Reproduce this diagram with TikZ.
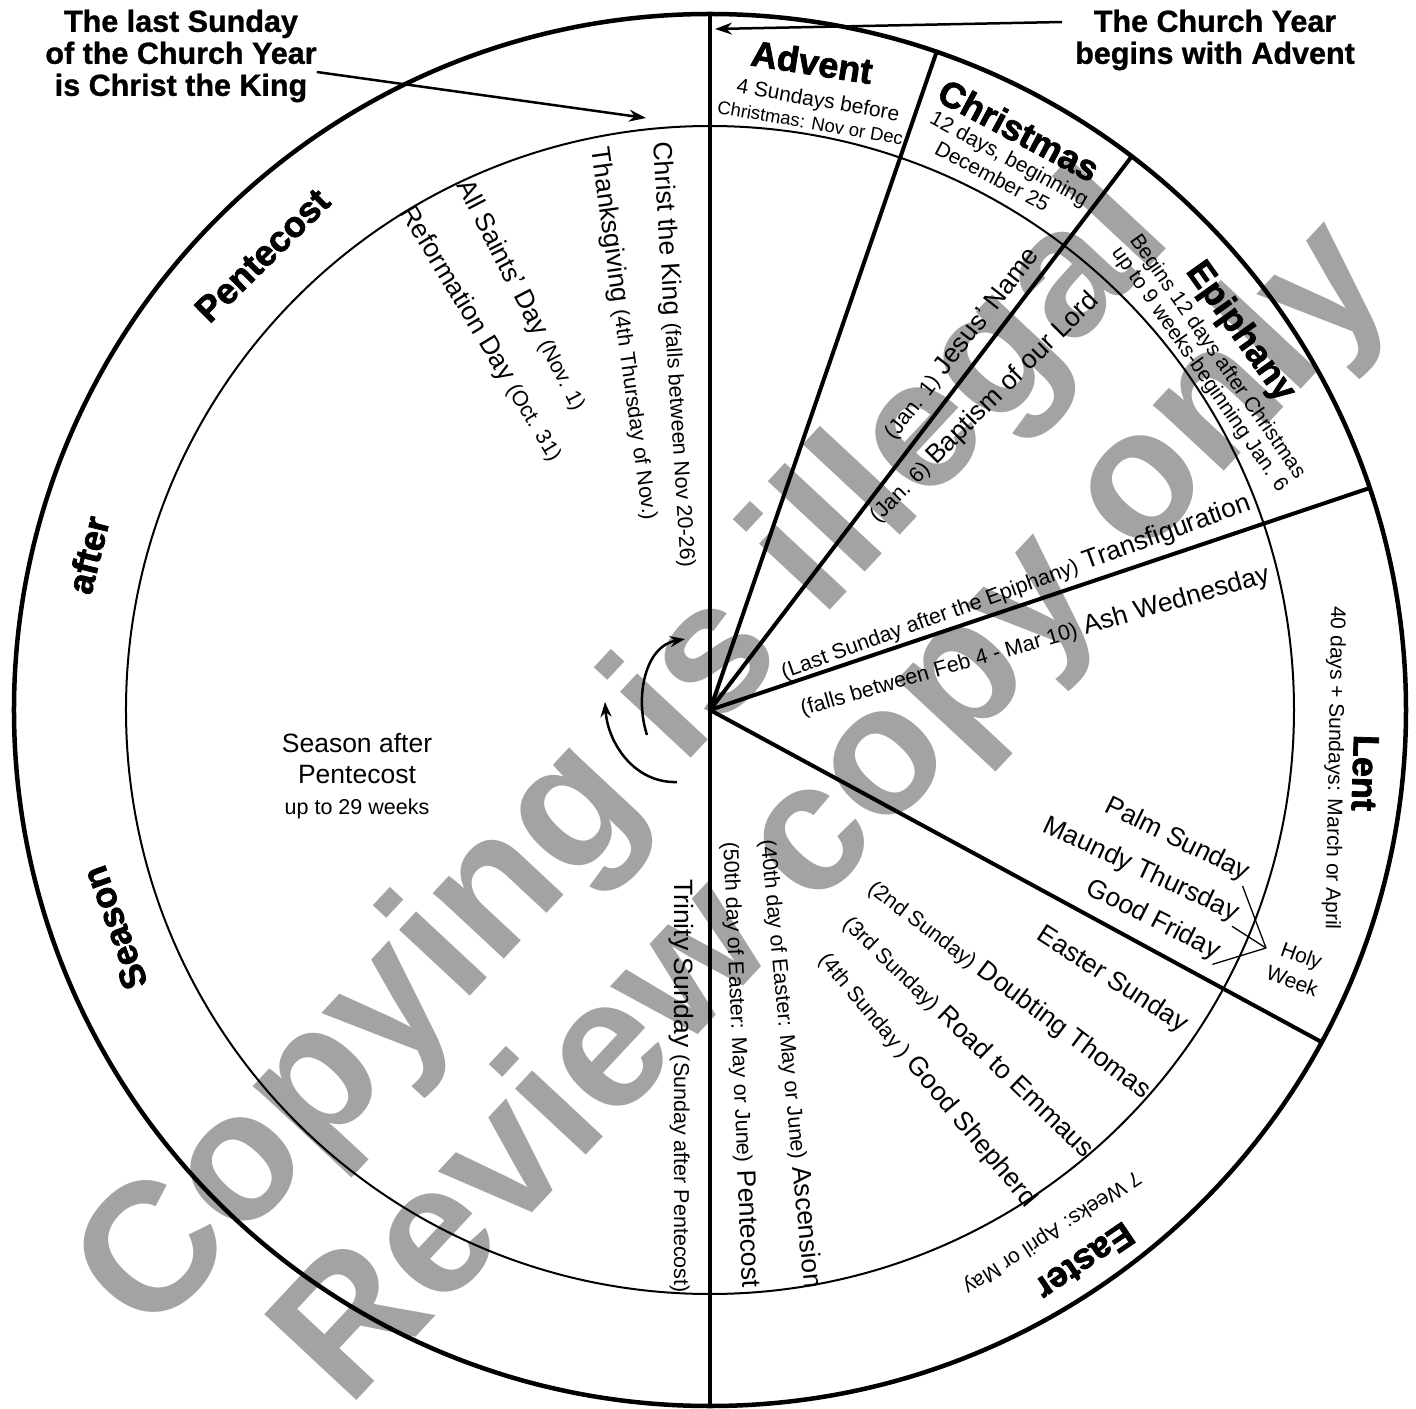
\documentclass[tikz,border=0pt]{standalone}
\usepackage{fontspec}
\setmainfont{Liberation Sans}
\newfontfamily\heavyfont{Liberation Sans}[BoldFeatures={FakeBold=2}]
\newfontfamily\calloutfont{Liberation Sans}[BoldFeatures={FakeBold=1}]
\usepackage{xcolor}
\definecolor{mark-gray}{RGB}{163,163,163}
\usepackage{tikz}
\usetikzlibrary{arrows.meta}
\newcommand\notesize{\fontsize{21.5}{25}\selectfont}

\begin{document}
\begin{tikzpicture}[
    x=1pt, y=1pt,
    every node/.style={inner sep=0pt},
    rim/.style={line width=4.5pt},
    spoke/.style={line width=4pt},
    band/.style={line width=2pt},
    fork/.style={line width=1.3pt},
    seasonname/.style={font=\heavyfont\bfseries\fontsize{36}{40}\selectfont},
    seasonnote/.style={font=\fontsize{21}{24}\selectfont},
    feast/.style={font=\fontsize{26.5}{30}\selectfont},
    callout/.style={font=\calloutfont\bfseries\fontsize{30.5}{32}\selectfont, align=center},
    callarrow/.style={line width=2.5pt, -{Stealth[length=17pt,width=12pt]}},
    turnarrow/.style={line width=2.5pt, -{Stealth[length=15pt,width=11pt]}},
    watermark/.style={font=\bfseries\fontsize{183}{183}\selectfont, text=mark-gray}
]

% Page frame
\path[use as bounding box, fill=white] (-710,-698) rectangle (706,710);

% Watermark, behind the wheel
\node[watermark, rotate=47] (markline1) at (-82,-48) {Copying is illegal};
\node[watermark, rotate=47] (markline2) at (128,-106) {Review copy only};

% Wheel: inner band, rim and spokes
\coordinate (hub) at (0,0);
\draw[band] (hub) circle[radius=584];
\draw[rim] (hub) circle[radius=696];
\draw[spoke] (90:696) -- (-90:696);
\foreach \a in {71,52.7,18.6,-28.5}
    \draw[spoke] (hub) -- (\a:696);

% Season names in the outer band
\node[seasonname, rotate=-8.95] (advent) at (81.05:656) {Advent};
\node[seasonname, rotate=-28.05] (christmas) at (61.95:657) {Christmas};
\node[seasonname, rotate=-54.5] (epiphany) at (35.5:651) {Epiphany};
\node[seasonname, rotate=-92] (lent) at (655,-63) {Lent};
\node[seasonname, rotate=-145.8] (easter) at (-55.8:667) {Easter};
\node[seasonname, rotate=44.56] (pentecost) at (134.56:638) {Pentecost};
\node[seasonname, rotate=76] (after) at (166:641) {after};
\node[seasonname, rotate=110.1] (season) at (200.1:634) {Season};

% Season notes
\node[seasonnote, rotate=-10.06] (adventnote) at (79.94:618) {4 Sundays before};
\node[seasonnote, font=\fontsize{18.5}{22}\selectfont, rotate=-9.7] (adventmonth) at (80.3:596) {Christmas: Nov or Dec};
\node[seasonnote, rotate=-28.5] (christmasnote) at (61.5:626) {12 days, beginning};
\node[seasonnote, rotate=-27.9] (christmasdate) at (62.1:604) {December 25};
\node[seasonnote, rotate=-55.15] (epiphanynote) at (34.85:618) {Begins 12 days after Christmas};
\node[seasonnote, rotate=-55.2] (epiphanylen) at (34.8:596) {up to 9 weeks-beginning Jan. 6};
\node[seasonnote, rotate=-91] (lentnote) at (624,-58) {40 days + Sundays: March or April};
\node[seasonnote, rotate=-146.8] (easternote) at (-56.8:624) {7 Weeks: April or May};

% Feasts after Pentecost
\node[feast, rotate=-86.3] (christking) at (-36,355) {Christ the King {\notesize(falls between Nov 20-26)}};
\node[feast, rotate=-82] (thanks) at (-86,376) {Thanksgiving {\notesize(4th Thursday of Nov.)}};
\node[feast, rotate=-62.6] (allsaints) at (-189,414) {All Saints’ Day {\notesize(Nov. 1)}};
\node[feast, rotate=-58.9] (reformation) at (-229,376) {Reformation Day {\notesize(Oct. 31)}};
\node[feast, rotate=-90] (trinity) at (-29,-376) {Trinity Sunday {\notesize(Sunday after Pentecost)}};

% Feasts of Christmas and Epiphany
\node[feast, rotate=52] (jesusname) at (252,366) {{\notesize(Jan. 1)} Jesus’ Name};
\node[feast, rotate=45] (baptism) at (274,302) {{\notesize(Jan. 6)} Baptism of our Lord};
\node[feast, rotate=19.9] (transfig) at (306,122) {{\notesize(Last Sunday after the Epiphany)} Transfiguration};

% Lent and Holy Week
\node[feast, rotate=16] (ashwed) at (325,68) {{\notesize(falls between Feb 4 - Mar 10)} Ash Wednesday};
\node[feast, rotate=-26] (palm) at (467,-130) {Palm Sunday};
\node[feast, rotate=-25] (maundy) at (431,-160) {Maundy Thursday};
\node[feast, rotate=-27] (goodfri) at (443,-210) {Good Friday};
\node[seasonnote, font=\fontsize{21}{27}\selectfont, align=center, rotate=-20] (holyweek) at (587,-258) {Holy\\Week};
\coordinate (holyfork) at (556,-238);
\draw[fork] (palm.south east) -- (holyfork);
\draw[fork] (maundy.south east) -- (holyfork);
\draw[fork] (goodfri.south east) -- (holyfork);

% Easter Sundays
\node[feast, rotate=-33] (eastersun) at (402,-270) {Easter Sunday};
\node[feast, rotate=-37] (thomas) at (299,-280) {{\notesize(2nd Sunday)} Doubting Thomas};
\node[feast, rotate=-44] (emmaus) at (258,-327) {{\notesize(3rd Sunday)} Road to Emmaus};
\node[feast, rotate=-50] (shepherd) at (217,-370) {{\notesize(4th Sunday )} Good Shepherd};
\node[feast, rotate=-84.4] (ascension) at (80,-354) {{\notesize(40th day of Easter: May or June)} Ascension};
\node[feast, rotate=-87.5] (pentecostday) at (30,-355) {{\notesize(50th day of Easter: May or June)} Pentecost};

% Season after Pentecost
\node[feast, align=center, font=\fontsize{26.5}{31}\selectfont] (afterpentecost) at (-353,-66)
    {Season after\\Pentecost\\{\notesize up to 29 weeks}};

% Direction of the year
\draw[turnarrow] (-63,-25) to[out=108,in=190] (-25,71);
\draw[turnarrow] (-33,-72) to[out=182,in=-86] (-105,8);

% Callouts
\node[callout] (lastsun) at (-529,654) {The last Sunday\\of the Church Year\\is Christ the King};
\node[callout] (churchyr) at (505,670) {The Church Year\\begins with Advent};
\coordinate (kingtip) at (-64,592);
\coordinate (adventtip) at (5,681);
\draw[callarrow] ([yshift=-16pt]lastsun.east) -- (kingtip);
\draw[callarrow] ([xshift=-13pt,yshift=18pt]churchyr.west) -- (adventtip);

\end{tikzpicture}
\end{document}
